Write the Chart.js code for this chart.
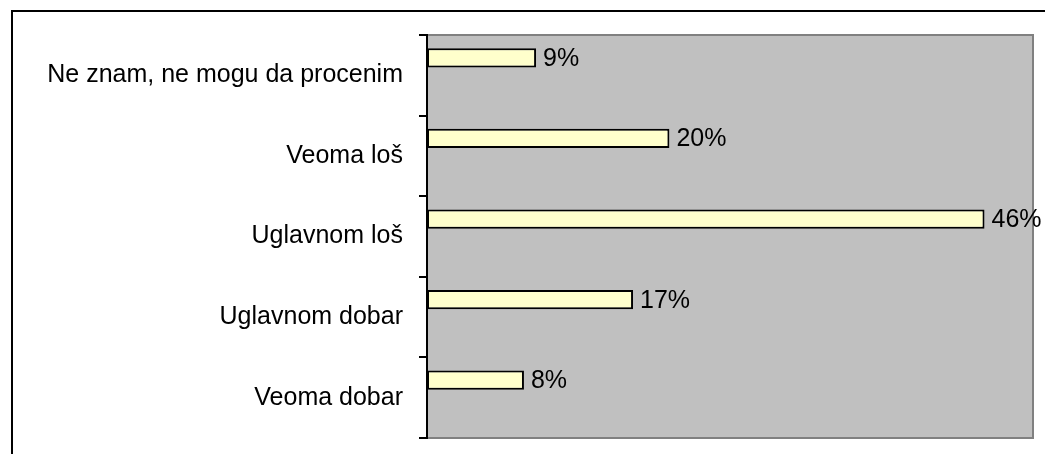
<!DOCTYPE html>
<html>
<head>
<meta charset="utf-8">
<script src="https://cdn.jsdelivr.net/npm/chart.js@4/dist/chart.umd.min.js"></script>
<style>
  html, body { margin: 0; padding: 0; background: #fff; }
  #wrap { width: 1045px; height: 454px; position: relative; }
</style>
</head>
<body>
<div id="wrap"><canvas id="ratingChart"></canvas></div>
<script>
// categories top to bottom, as in the picture
const categories = ['Ne znam, ne mogu da procenim', 'Veoma loš', 'Uglavnom loš', 'Uglavnom dobar', 'Veoma dobar'];
const shares = [9, 20, 46, 17, 8];
// empty second series, the original leaves its slot free below each bar
const emptySeries = [null, null, null, null, null];
const axisMax = 50;

const FONT = 'Arial, "Liberation Sans", sans-serif';

// white page, outer frame and grey plot area
const backgroundPlugin = {
    id: 'background',
    beforeDraw(chart) {
        const ctx = chart.ctx;
        const a = chart.chartArea;
        ctx.save();
        ctx.fillStyle = '#fff';
        ctx.fillRect(0, 0, chart.width, chart.height);
        ctx.strokeStyle = '#000';
        ctx.lineWidth = 2;
        ctx.beginPath();
        ctx.moveTo(12, chart.height + 5);
        ctx.lineTo(12, 11);
        ctx.lineTo(chart.width + 5, 11);
        ctx.stroke();
        ctx.fillStyle = '#c0c0c0';
        ctx.fillRect(a.left, a.top, a.right - a.left, a.bottom - a.top);
        ctx.strokeStyle = '#808080';
        ctx.strokeRect(a.left, a.top, a.right - a.left, a.bottom - a.top);
        ctx.restore();
    }
};

// percentage text right of each bar
const valueLabelPlugin = {
    id: 'valueLabels',
    afterDatasetsDraw(chart) {
        const ctx = chart.ctx;
        const meta = chart.getDatasetMeta(0);
        ctx.save();
        ctx.font = '25px ' + FONT;
        ctx.fillStyle = '#000';
        ctx.textAlign = 'left';
        ctx.textBaseline = 'middle';
        meta.data.forEach((bar, i) => {
            ctx.fillText(shares[i] + '%', bar.x + 7, bar.y + 1);
        });
        ctx.restore();
    }
};

new Chart(document.getElementById('ratingChart'), {
    type: 'bar',
    data: {
        labels: categories,
        datasets: [{
            label: 'Udeo',
            data: shares,
            backgroundColor: '#ffffcc',
            borderColor: '#000',
            borderWidth: 2,
            borderSkipped: false,
            categoryPercentage: 0.868,
            barPercentage: 0.55
        }, {
            label: '',
            data: emptySeries,
            categoryPercentage: 0.868,
            barPercentage: 0.55
        }]
    },
    options: {
        indexAxis: 'y',
        responsive: true,
        maintainAspectRatio: false,
        animation: false,
        layout: { padding: { top: 35, right: 12, bottom: 16, left: 0 } },
        plugins: {
            legend: { display: false },
            tooltip: { enabled: false }
        },
        scales: {
            x: {
                display: false,
                min: 0,
                max: axisMax
            },
            y: {
                afterFit(scale) {
                    scale.width = 427;
                    scale.paddingTop = 0;
                    scale.paddingBottom = 0;
                },
                grid: {
                    drawOnChartArea: false,
                    drawTicks: true,
                    tickLength: 8,
                    color: '#000',
                    lineWidth: 2
                },
                border: { display: true, color: '#000', width: 2 },
                ticks: {
                    color: '#000',
                    padding: 16,
                    font: { family: FONT, size: 25 }
                }
            }
        }
    },
    plugins: [backgroundPlugin, valueLabelPlugin]
});
</script>
</body>
</html>
